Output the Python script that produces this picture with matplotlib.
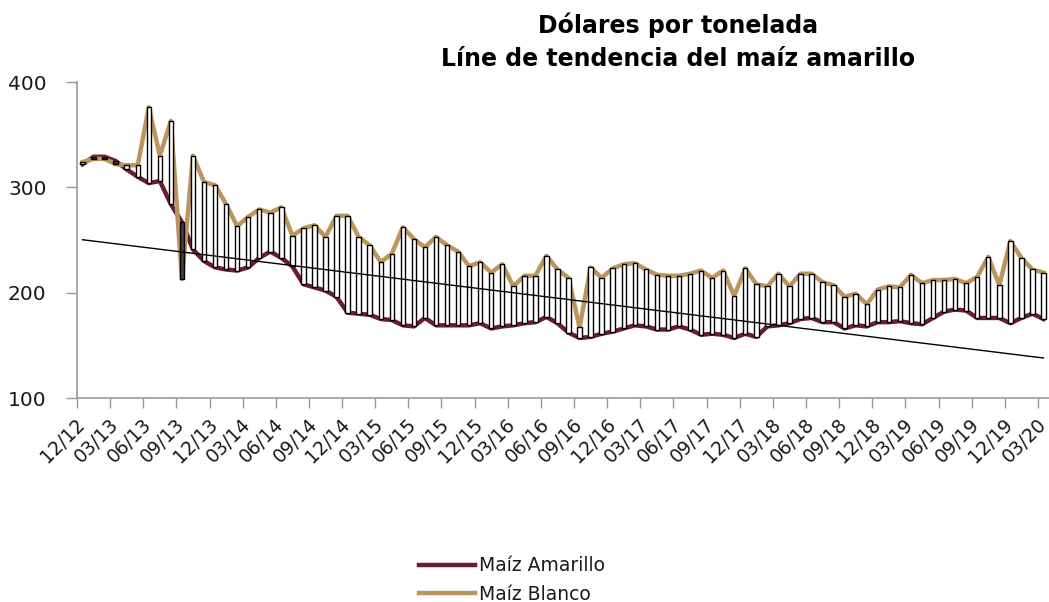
import numpy as np
import matplotlib
matplotlib.use("Agg")
import matplotlib.pyplot as plt
from matplotlib.lines import Line2D
from matplotlib.transforms import ScaledTranslation

plt.rcParams['font.family'] = ['DejaVu Sans']

# Monthly labels from 12/12 to 03/20
months = []
for y in range(2012, 2021):
    for m in range(1, 13):
        if (y == 2012 and m < 12) or (y == 2020 and m > 3):
            continue
        months.append(f"{m:02d}/{str(y)[2:]}")

amarillo = [322, 329, 329, 325, 317, 310, 304, 306, 284, 267,
            241, 230, 224, 222, 221, 224, 233, 239, 233, 225,
            208, 205, 202, 196, 181, 180, 179, 175, 174, 169,
            168, 176, 169, 169, 169, 169, 171, 166, 168, 169,
            171, 172, 177, 171, 162, 157, 158, 161, 163, 166,
            169, 168, 165, 165, 168, 165, 160, 161, 160, 157,
            161, 158, 168, 169, 171, 175, 176, 172, 172, 166,
            169, 168, 172, 172, 173, 171, 170, 176, 182, 184,
            183, 176, 176, 176, 171, 176, 180, 175]

blanco = [324, 327, 327, 322, 321, 321, 376, 330, 363, 213,
          330, 305, 302, 284, 263, 272, 279, 276, 281, 254,
          261, 264, 253, 273, 273, 253, 245, 229, 237, 262,
          251, 243, 253, 245, 239, 225, 229, 219, 227, 206,
          216, 216, 235, 222, 214, 167, 224, 214, 223, 227,
          228, 222, 217, 216, 216, 218, 221, 214, 221, 197,
          223, 208, 206, 218, 206, 218, 218, 210, 207, 196,
          199, 189, 203, 206, 205, 217, 209, 212, 212, 213,
          209, 215, 234, 207, 249, 233, 222, 219]

GUINDA = "#691C32"
DORADO = "#BC955C"

x = np.arange(len(months))
am = np.array(amarillo, dtype=float)
bl = np.array(blanco, dtype=float)

fig = plt.figure(figsize=(10.49, 6.02), dpi=100)
ax = fig.add_axes([77/1049, 1-398/602, (1049-77)/1049, (398-82)/602])

ax.plot(x, am, color=GUINDA, lw=3.2, zorder=2, solid_joinstyle='round')
ax.plot(x, bl, color=DORADO, lw=3.2, zorder=2, solid_joinstyle='round')

diff = bl - am
colors = np.where(diff >= 0, "white", "#404040")
ax.bar(x, diff, bottom=am, width=0.4, color=colors, edgecolor="black",
       linewidth=1.0, zorder=3)

# linear trend line of Maíz Amarillo
coef = np.polyfit(x, am, 1)
ax.plot(x, np.polyval(coef, x), color="black", lw=1.0, zorder=4)

ax.set_xlim(-0.5, len(months) - 0.5)
ax.set_ylim(100, 400)
ax.set_yticks([100, 200, 300, 400])
ax.tick_params(axis='y', labelsize=14.5, colors='#999999', labelcolor='#1a1a1a',
               length=8, width=1, direction='out', pad=14)

lab_idx = list(range(0, len(months), 3))
ax.set_xticks(lab_idx)
ax.set_xticklabels([months[i] for i in lab_idx], rotation=45,
                   ha='right', va='top', rotation_mode='anchor',
                   fontsize=13.5, color='#1a1a1a')
ax.tick_params(axis='x', which='major', length=0, pad=12)
off = ScaledTranslation(-7/100, 0, fig.dpi_scale_trans)
for lab in ax.get_xticklabels():
    lab.set_transform(lab.get_transform() + off)
ax.set_xticks(np.arange(-0.5, len(months), 3), minor=True)
ax.tick_params(axis='x', which='minor', length=7, width=1, color='#999999',
               direction='out')

for s in ['top', 'right']:
    ax.spines[s].set_visible(False)
for s in ['left', 'bottom']:
    ax.spines[s].set_color('#999999')
    ax.spines[s].set_linewidth(1.2)

fig.text(678/1049, 1-42/602, "Dólares por tonelada\nLíne de tendencia del maíz amarillo",
         ha='center', va='center', fontsize=17, fontweight='bold',
         linespacing=1.5, color='black')

handles = [Line2D([], [], color=GUINDA, lw=3.2),
           Line2D([], [], color=DORADO, lw=3.2)]
fig.legend(handles, ["Maíz Amarillo", "Maíz Blanco"], loc='center',
           bbox_to_anchor=(512/1049, 1-580/602), frameon=False,
           fontsize=13.5, handlelength=3.0, handletextpad=0.2,
           labelspacing=0.5, labelcolor='#1a1a1a', borderpad=0.2)

fig.savefig("out.png", dpi=100)
